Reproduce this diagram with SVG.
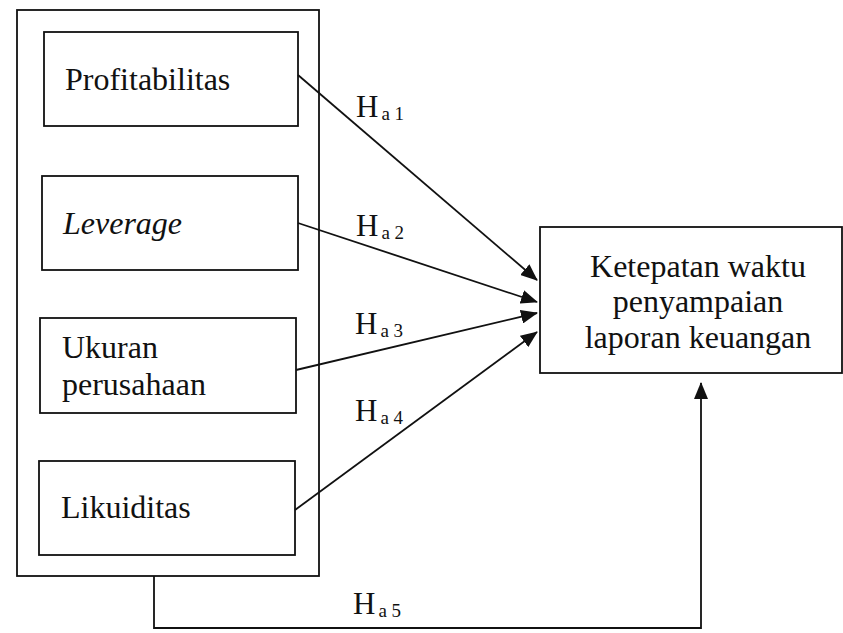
<svg xmlns="http://www.w3.org/2000/svg" width="843" height="633" viewBox="0 0 843 633">
<style>
.box{fill:none;stroke:#111;stroke-width:1.8}
.t{font-family:"Liberation Serif","Times New Roman",serif;font-size:32px;fill:#111}
.h{font-family:"Liberation Serif","Times New Roman",serif;font-size:31px;fill:#111}
.s{font-size:19px}
.c{fill:none;stroke:#111;stroke-width:1.8}
</style>
<defs>
<marker id="ah" markerUnits="userSpaceOnUse" markerWidth="18" markerHeight="14" refX="16" refY="7" orient="auto">
<path d="M0,0 L17,7 L0,14 Z" fill="#111"/>
</marker>
</defs>
<rect width="843" height="633" fill="#fff"/>
<g id="outer"><rect class="box" x="17" y="10" width="302" height="566"/></g>
<g id="profitabilitas"><rect class="box" x="44" y="32" width="254" height="94"/><text class="t" x="65" y="90">Profitabilitas</text></g>
<g id="leverage"><rect class="box" x="42" y="176" width="256" height="94"/><text class="t" x="63" y="234" font-style="italic">Leverage</text></g>
<g id="ukuran"><rect class="box" x="40" y="318" width="256" height="95"/><text class="t" x="62" y="358">Ukuran</text><text class="t" x="62" y="395">perusahaan</text></g>
<g id="likuiditas"><rect class="box" x="39" y="461" width="256" height="94"/><text class="t" x="61" y="518">Likuiditas</text></g>
<g id="ketepatan"><rect class="box" x="540" y="227" width="302" height="146"/><text class="t" text-anchor="middle" x="698" y="277">Ketepatan waktu</text><text class="t" text-anchor="middle" x="698" y="312">penyampaian</text><text class="t" text-anchor="middle" x="698" y="348">laporan keuangan</text></g>
<g id="connectors">
<line class="c" x1="298" y1="75" x2="537" y2="280" marker-end="url(#ah)"/>
<line class="c" x1="298" y1="223" x2="537" y2="302" marker-end="url(#ah)"/>
<line class="c" x1="296" y1="370" x2="537" y2="313" marker-end="url(#ah)"/>
<line class="c" x1="295" y1="510" x2="537" y2="332" marker-end="url(#ah)"/>
<polyline class="c" points="154,576 154,628 701,628 701,383" marker-end="url(#ah)"/>
</g>
<g id="labels">
<text class="h" x="356" y="117">H<tspan class="s" dx="3" dy="3">a 1</tspan></text>
<text class="h" x="356" y="236">H<tspan class="s" dx="3" dy="3">a 2</tspan></text>
<text class="h" x="355" y="334">H<tspan class="s" dx="3" dy="3">a 3</tspan></text>
<text class="h" x="355" y="421">H<tspan class="s" dx="3" dy="3">a 4</tspan></text>
<text class="h" x="353" y="614">H<tspan class="s" dx="3" dy="3">a 5</tspan></text>
</g>
</svg>
